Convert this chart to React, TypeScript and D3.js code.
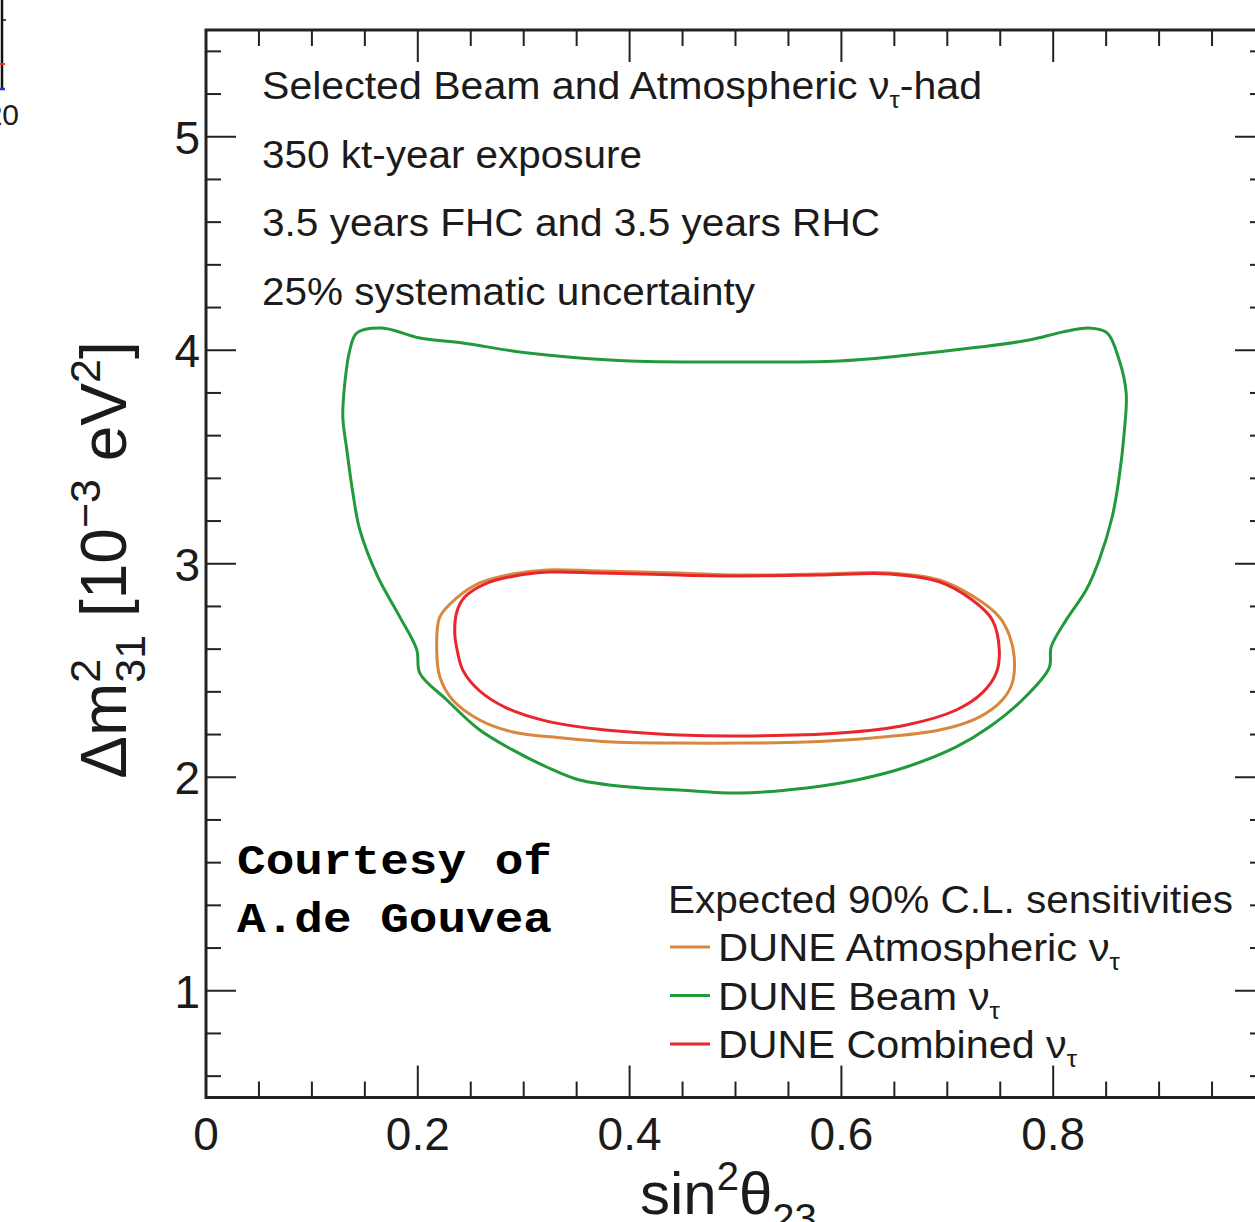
import React, { useEffect, useRef } from "react";
import * as d3 from "d3";

const width = 1255;
const height = 1222;
const frame = { left: 206, top: 30, right: 1265, bottom: 1097.5 };

// axis ticks
const xMajor = [0, 0.2, 0.4, 0.6, 0.8];
const xLabels = ["0", "0.2", "0.4", "0.6", "0.8"];
const yMajor = [1, 2, 3, 4, 5];
const yLabels = ["1", "2", "3", "4", "5"];

// 90% C.L. contours, [sin^2 theta23, dm2_31 (1e-3 eV^2)]
const beamContour = [
  [0.1425, 4.081], [0.166, 4.104], [0.2019, 4.057], [0.2425, 4.034], [0.2962, 3.992],
  [0.3528, 3.964], [0.4, 3.95], [0.4991, 3.945], [0.5981, 3.95], [0.6547, 3.973],
  [0.7302, 4.015], [0.7774, 4.048], [0.8085, 4.085], [0.834, 4.104], [0.8509, 4.081],
  [0.8623, 3.954], [0.8689, 3.8], [0.867, 3.612], [0.8623, 3.406], [0.8557, 3.219],
  [0.8434, 3.018], [0.8311, 2.877], [0.8123, 2.737], [0.7981, 2.61], [0.7962, 2.512],
  [0.7708, 2.362], [0.7396, 2.235], [0.7085, 2.142], [0.6613, 2.048], [0.6142, 1.987],
  [0.567, 1.95], [0.5038, 1.926], [0.4472, 1.94], [0.4, 1.954], [0.3528, 1.987],
  [0.3217, 2.048], [0.2896, 2.128], [0.2585, 2.221], [0.2274, 2.362], [0.2019, 2.488],
  [0.1991, 2.596], [0.183, 2.751], [0.1623, 2.938], [0.1453, 3.158], [0.1387, 3.331],
  [0.133, 3.533], [0.1292, 3.687], [0.1311, 3.847], [0.1358, 4.001],
];

const atmosContour = [
  [0.2179, 2.596], [0.2208, 2.751], [0.2368, 2.84], [0.2585, 2.91], [0.2896, 2.952],
  [0.3217, 2.971], [0.3717, 2.966], [0.4472, 2.957], [0.5038, 2.947], [0.5792, 2.952],
  [0.6453, 2.957], [0.6925, 2.924], [0.7255, 2.844], [0.7491, 2.751], [0.7585, 2.666],
  [0.7632, 2.563], [0.7613, 2.441], [0.7519, 2.362], [0.7302, 2.282], [0.6925, 2.221],
  [0.6292, 2.184], [0.567, 2.165], [0.5038, 2.16], [0.4472, 2.16], [0.384, 2.165],
  [0.3368, 2.184], [0.2896, 2.212], [0.2585, 2.268], [0.233, 2.362], [0.2208, 2.47],
];

const combinedContour = [
  [0.2349, 2.676], [0.2368, 2.774], [0.2443, 2.844], [0.2632, 2.905], [0.2915, 2.943],
  [0.3245, 2.961], [0.3717, 2.957], [0.4472, 2.947], [0.5038, 2.943], [0.5792, 2.947],
  [0.6453, 2.952], [0.6925, 2.915], [0.7236, 2.83], [0.7425, 2.737], [0.7491, 2.596],
  [0.7462, 2.488], [0.733, 2.395], [0.7085, 2.315], [0.6613, 2.245], [0.5981, 2.207],
  [0.5038, 2.193], [0.4472, 2.198], [0.3689, 2.226], [0.3217, 2.263], [0.284, 2.324],
  [0.2585, 2.404], [0.2425, 2.502], [0.2368, 2.605],
];

const series = [
  { name: "DUNE Atmospheric ", color: "#d8873f", data: atmosContour, len: 402 },
  { name: "DUNE Beam ", color: "#22993a", data: beamContour, len: 282 },
  { name: "DUNE Combined ", color: "#e8262c", data: combinedContour, len: 359 },
];

// text blocks: [before, subscript, after, width]
const infoLines: [string, string, string, number][] = [
  ["Selected Beam and Atmospheric ν", "τ", "-had", 720],
  ["350 kt-year exposure", "", "", 380],
  ["3.5 years FHC and 3.5 years RHC", "", "", 618],
  ["25% systematic uncertainty", "", "", 493],
];
const legendTitle = "Expected 90% C.L. sensitivities";
const courtesy = ["Courtesy of", "A.de Gouvea"];

const font = "'Liberation Sans', Arial, Helvetica, sans-serif";
const ink = "#1b1b1b";

const App = () => {
  const ref = useRef<SVGSVGElement>(null);

  useEffect(() => {
    const svg = d3.select(ref.current);
    svg.selectAll("*").remove();

    const x = d3.scaleLinear().domain([0, 1]).range([frame.left, frame.right]);
    const y = d3.scaleLinear().domain([0.5, 5.5]).range([frame.bottom, frame.top]);

    svg.append("rect").attr("width", width).attr("height", height).attr("fill", "#fff");

    // fragment of neighbouring plot at top-left
    const frag = svg.append("g");
    frag.append("line").attr("x1", 2).attr("x2", 2).attr("y1", 0).attr("y2", 90)
      .attr("stroke", "#111").attr("stroke-width", 2.5);
    frag.append("line").attr("x1", 2).attr("x2", 6).attr("y1", 20).attr("y2", 20)
      .attr("stroke", "#111").attr("stroke-width", 1.5);
    frag.append("line").attr("x1", 0).attr("x2", 5).attr("y1", 64).attr("y2", 64)
      .attr("stroke", "#e33").attr("stroke-width", 2);
    frag.append("line").attr("x1", 0).attr("x2", 5).attr("y1", 89).attr("y2", 89)
      .attr("stroke", "#2233cc").attr("stroke-width", 2.5);
    frag.append("text").attr("x", 19).attr("y", 125).attr("text-anchor", "end")
      .attr("font-family", font).attr("font-size", 30).attr("fill", ink).text("20");

    // ticks
    const ticks = svg.append("g").attr("stroke", "#222").attr("stroke-width", 2);
    const xMinor = d3.range(0.05, 1, 0.05).filter((v) => Math.abs(v / 0.2 - Math.round(v / 0.2)) > 1e-6);
    const yMinor = d3.range(0.6, 5.5, 0.2).filter((v) => Math.abs(v - Math.round(v)) > 1e-6);

    const xt = [...xMajor.map((v) => [v, 32]), ...xMinor.map((v) => [v, 16])];
    xt.forEach(([v, l]) => {
      ticks.append("line").attr("x1", x(v)).attr("x2", x(v)).attr("y1", frame.bottom).attr("y2", frame.bottom - l);
      ticks.append("line").attr("x1", x(v)).attr("x2", x(v)).attr("y1", frame.top).attr("y2", frame.top + l);
    });
    const yt = [...yMajor.map((v) => [v, 30]), ...yMinor.map((v) => [v, 15])];
    yt.forEach(([v, l]) => {
      ticks.append("line").attr("x1", frame.left).attr("x2", frame.left + l).attr("y1", y(v)).attr("y2", y(v));
      ticks.append("line").attr("x1", frame.right).attr("x2", frame.right - l).attr("y1", y(v)).attr("y2", y(v));
    });

    svg.append("rect")
      .attr("x", frame.left).attr("y", frame.top)
      .attr("width", frame.right - frame.left).attr("height", frame.bottom - frame.top)
      .attr("fill", "none").attr("stroke", "#222").attr("stroke-width", 3);

    // tick labels
    svg.append("g").selectAll("text").data(xMajor).join("text")
      .attr("x", (d) => x(d)).attr("y", 1150).attr("text-anchor", "middle")
      .attr("font-family", font).attr("font-size", 46).attr("fill", ink)
      .text((d, i) => xLabels[i]);
    svg.append("g").selectAll("text").data(yMajor).join("text")
      .attr("x", 200).attr("y", (d) => y(d) + 17).attr("text-anchor", "end")
      .attr("font-family", font).attr("font-size", 46).attr("fill", ink)
      .text((d, i) => yLabels[i]);

    // axis titles
    const xt2 = svg.append("text").attr("x", 640).attr("y", 1214)
      .attr("font-family", font).attr("font-size", 60).attr("fill", ink);
    xt2.append("tspan").text("sin");
    xt2.append("tspan").attr("font-size", 40).attr("dy", -24).text("2");
    xt2.append("tspan").attr("dy", 24).text("θ");
    xt2.append("tspan").attr("font-size", 40).attr("dy", 18).text("23");

    const yt2 = svg.append("text")
      .attr("transform", `translate(126, 560) rotate(-90)`)
      .attr("text-anchor", "middle")
      .attr("font-family", font).attr("font-size", 64).attr("fill", ink);
    yt2.append("tspan").text("Δm");
    yt2.append("tspan").attr("font-size", 43).attr("dy", -26).text("2");
    yt2.append("tspan").attr("font-size", 43).attr("dx", -24).attr("dy", 45).text("31");
    yt2.append("tspan").attr("dy", -19).text(" [10");
    yt2.append("tspan").attr("font-size", 43).attr("dy", -26).text("−3");
    yt2.append("tspan").attr("dy", 26).text(" eV");
    yt2.append("tspan").attr("font-size", 43).attr("dy", -26).text("2");
    yt2.append("tspan").attr("dy", 26).text("]");

    // contours
    const line = d3.line<number[]>()
      .x((d) => x(d[0]))
      .y((d) => y(d[1]))
      .curve(d3.curveCatmullRomClosed.alpha(0.5));
    [series[1], series[0], series[2]].forEach((s) => {
      svg.append("path").attr("d", line(s.data)).attr("fill", "none")
        .attr("stroke", s.color).attr("stroke-width", 3).attr("stroke-linejoin", "round");
    });

    // info text
    infoLines.forEach(([a, sub, b, len], i) => {
      const t = svg.append("text").attr("x", 262).attr("y", 99 + i * 68.7)
        .attr("font-family", font).attr("font-size", 38).attr("fill", ink)
        .attr("textLength", len).attr("lengthAdjust", "spacingAndGlyphs");
      t.append("tspan").text(a);
      if (sub) {
        t.append("tspan").attr("font-size", 24).attr("dy", 9).text(sub);
        t.append("tspan").attr("dy", -9).text(b);
      }
    });

    // courtesy
    courtesy.forEach((s, i) => {
      svg.append("text").attr("x", 237).attr("y", 874 + i * 58)
        .attr("font-family", "'Liberation Mono', 'Courier New', monospace")
        .attr("font-weight", "bold").attr("font-size", 42).attr("fill", "#000")
        .attr("textLength", 315).attr("lengthAdjust", "spacingAndGlyphs")
        .text(s);
    });

    // legend
    svg.append("text").attr("x", 668).attr("y", 913)
      .attr("font-family", font).attr("font-size", 38).attr("fill", ink)
      .attr("textLength", 565).attr("lengthAdjust", "spacingAndGlyphs")
      .text(legendTitle);
    series.forEach((s, i) => {
      const cy = 947 + i * 48.5;
      svg.append("line").attr("x1", 670).attr("x2", 710).attr("y1", cy).attr("y2", cy)
        .attr("stroke", s.color).attr("stroke-width", 3);
      const t = svg.append("text").attr("x", 718).attr("y", cy + 14)
        .attr("font-family", font).attr("font-size", 38).attr("fill", ink)
        .attr("textLength", s.len).attr("lengthAdjust", "spacingAndGlyphs");
      t.append("tspan").text(s.name + "ν");
      t.append("tspan").attr("font-size", 24).attr("dy", 9).text("τ");
    });
  }, []);

  return (
    <svg
      ref={ref}
      width={width}
      height={height}
      viewBox={`0 0 ${width} ${height}`}
      style={{ position: "absolute", left: 0, top: 0, display: "block" }}
    />
  );
};

export default App;
